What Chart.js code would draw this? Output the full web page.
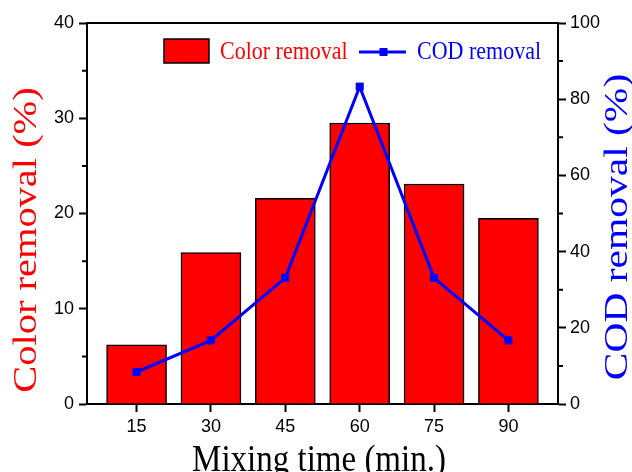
<!DOCTYPE html>
<html>
<head>
<meta charset="utf-8">
<title>Color and COD removal vs mixing time</title>
<script src="https://cdn.jsdelivr.net/npm/chart.js@4.4.1/dist/chart.umd.min.js"></script>
<style>
  html, body { margin: 0; padding: 0; background: #fff; }
  canvas { display: block; }
</style>
</head>
<body>
<canvas id="grafico" width="632" height="472"></canvas>
<script>
// Data
const mixingTimes = [15, 30, 45, 60, 75, 90];
const colorRemoval = [6.2, 15.9, 21.6, 29.5, 23.1, 19.5];
const codRemoval = [8.4, 16.7, 33.1, 83.3, 33.1, 16.7];
const colorTicks = [0, 10, 20, 30, 40];
const colorMinorTicks = [5, 15, 25, 35];
const codTicks = [0, 20, 40, 60, 80, 100];
const codMinorTicks = [10, 30, 50, 70, 90];

const RED = '#ff0000';
const BLUE = '#0000ff';
const serif = '"Liberation Serif", "Times New Roman", serif';
const sans = '"Liberation Sans", Arial, sans-serif';

// Rotated / stretched text helper
function drawText(ctx, text, x, y, opts) {
    ctx.save();
    ctx.translate(x, y);
    if (opts.rotate) ctx.rotate(opts.rotate);
    ctx.scale(opts.sx || 1, opts.sy || 1);
    ctx.font = opts.font;
    ctx.fillStyle = opts.color;
    ctx.textAlign = opts.align || 'left';
    ctx.textBaseline = 'alphabetic';
    ctx.fillText(text, 0, 0);
    ctx.restore();
}

// Frame, minor ticks, axis titles and legend
const extras = {
    id: 'extras',
    afterDraw(chart) {
        const ctx = chart.ctx;
        const area = chart.chartArea;
        const yLeft = chart.scales.y;
        const yRight = chart.scales.y2;

        ctx.save();
        ctx.strokeStyle = '#000';
        ctx.lineWidth = 2;
        ctx.beginPath();
        ctx.moveTo(area.left - 1, area.top);
        ctx.lineTo(area.right + 1, area.top);
        colorMinorTicks.forEach(v => {
            const py = yLeft.getPixelForValue(v);
            ctx.moveTo(area.left - 5, py);
            ctx.lineTo(area.left, py);
        });
        codMinorTicks.forEach(v => {
            const py = yRight.getPixelForValue(v);
            ctx.moveTo(area.right, py);
            ctx.lineTo(area.right + 5, py);
        });
        ctx.stroke();
        ctx.restore();

        // axis titles
        drawText(ctx, 'Color removal (%)', 36, 240, {
            rotate: -Math.PI / 2, sx: 1.19, font: '34px ' + serif, color: RED, align: 'center'
        });
        drawText(ctx, 'COD removal (%)', 627, 227, {
            rotate: -Math.PI / 2, sx: 1.22, font: '34px ' + serif, color: BLUE, align: 'center'
        });
        drawText(ctx, 'Mixing time (min.)', 319, 471, {
            sy: 1.15, font: '33px ' + serif, color: '#000', align: 'center'
        });

        // legend
        ctx.save();
        ctx.fillStyle = RED;
        ctx.strokeStyle = '#000';
        ctx.lineWidth = 1.5;
        ctx.fillRect(164, 39, 45, 24);
        ctx.strokeRect(164, 39, 45, 24);
        ctx.strokeStyle = BLUE;
        ctx.lineWidth = 3;
        ctx.beginPath();
        ctx.moveTo(359, 52);
        ctx.lineTo(406, 52);
        ctx.stroke();
        ctx.fillStyle = BLUE;
        ctx.fillRect(379.5, 48, 8, 8);
        ctx.restore();
        drawText(ctx, 'Color removal', 220, 59, { sy: 1.17, font: '22px ' + serif, color: RED });
        drawText(ctx, 'COD removal', 417, 59, { sy: 1.17, font: '22px ' + serif, color: BLUE });
    }
};

const tickFont = { family: sans, size: 18 };

new Chart(document.getElementById('grafico'), {
    type: 'bar',
    data: {
        datasets: [
            {
                type: 'line',
                label: 'COD removal',
                data: mixingTimes.map((t, i) => ({ x: t, y: codRemoval[i] })),
                yAxisID: 'y2',
                borderColor: BLUE,
                borderWidth: 3,
                pointStyle: 'rect',
                pointRadius: 5,
                pointBorderWidth: 1,
                pointBackgroundColor: BLUE,
                pointBorderColor: BLUE,
                tension: 0,
                order: 1
            },
            {
                type: 'bar',
                label: 'Color removal',
                data: mixingTimes.map((t, i) => ({ x: t, y: colorRemoval[i] })),
                yAxisID: 'y',
                backgroundColor: RED,
                borderColor: '#000',
                borderWidth: 1.5,
                barThickness: 60,
                order: 2
            }
        ]
    },
    options: {
        responsive: false,
        animation: false,
        layout: { padding: { top: 23, left: 0, right: 0, bottom: 0 } },
        plugins: {
            legend: { display: false },
            tooltip: { enabled: false }
        },
        scales: {
            x: {
                type: 'linear',
                position: 'bottom',
                min: 5,
                max: 100,
                offset: false,
                afterBuildTicks: scale => { scale.ticks = mixingTimes.map(v => ({ value: v })); },
                afterFit: scale => { scale.height = 68; },
                grid: { offset: false, drawOnChartArea: false, tickLength: 8, tickWidth: 2, tickColor: '#000' },
                border: { color: '#000', width: 2 },
                ticks: { font: tickFont, color: '#000', padding: 4, maxRotation: 0 }
            },
            y: {
                position: 'left',
                min: 0,
                max: 40,
                afterBuildTicks: scale => { scale.ticks = colorTicks.map(v => ({ value: v })); },
                afterFit: scale => { scale.width = 87; },
                grid: { drawOnChartArea: false, tickLength: 8, tickWidth: 2, tickColor: '#000' },
                border: { color: '#000', width: 2 },
                ticks: { font: tickFont, color: '#000', padding: 5 }
            },
            y2: {
                position: 'right',
                min: 0,
                max: 100,
                afterBuildTicks: scale => { scale.ticks = codTicks.map(v => ({ value: v })); },
                afterFit: scale => { scale.width = 74; },
                grid: { drawOnChartArea: false, tickLength: 8, tickWidth: 2, tickColor: '#000' },
                border: { color: '#000', width: 2 },
                ticks: { font: tickFont, color: '#000', padding: 4 }
            }
        }
    },
    plugins: [extras]
});
</script>
</body>
</html>
